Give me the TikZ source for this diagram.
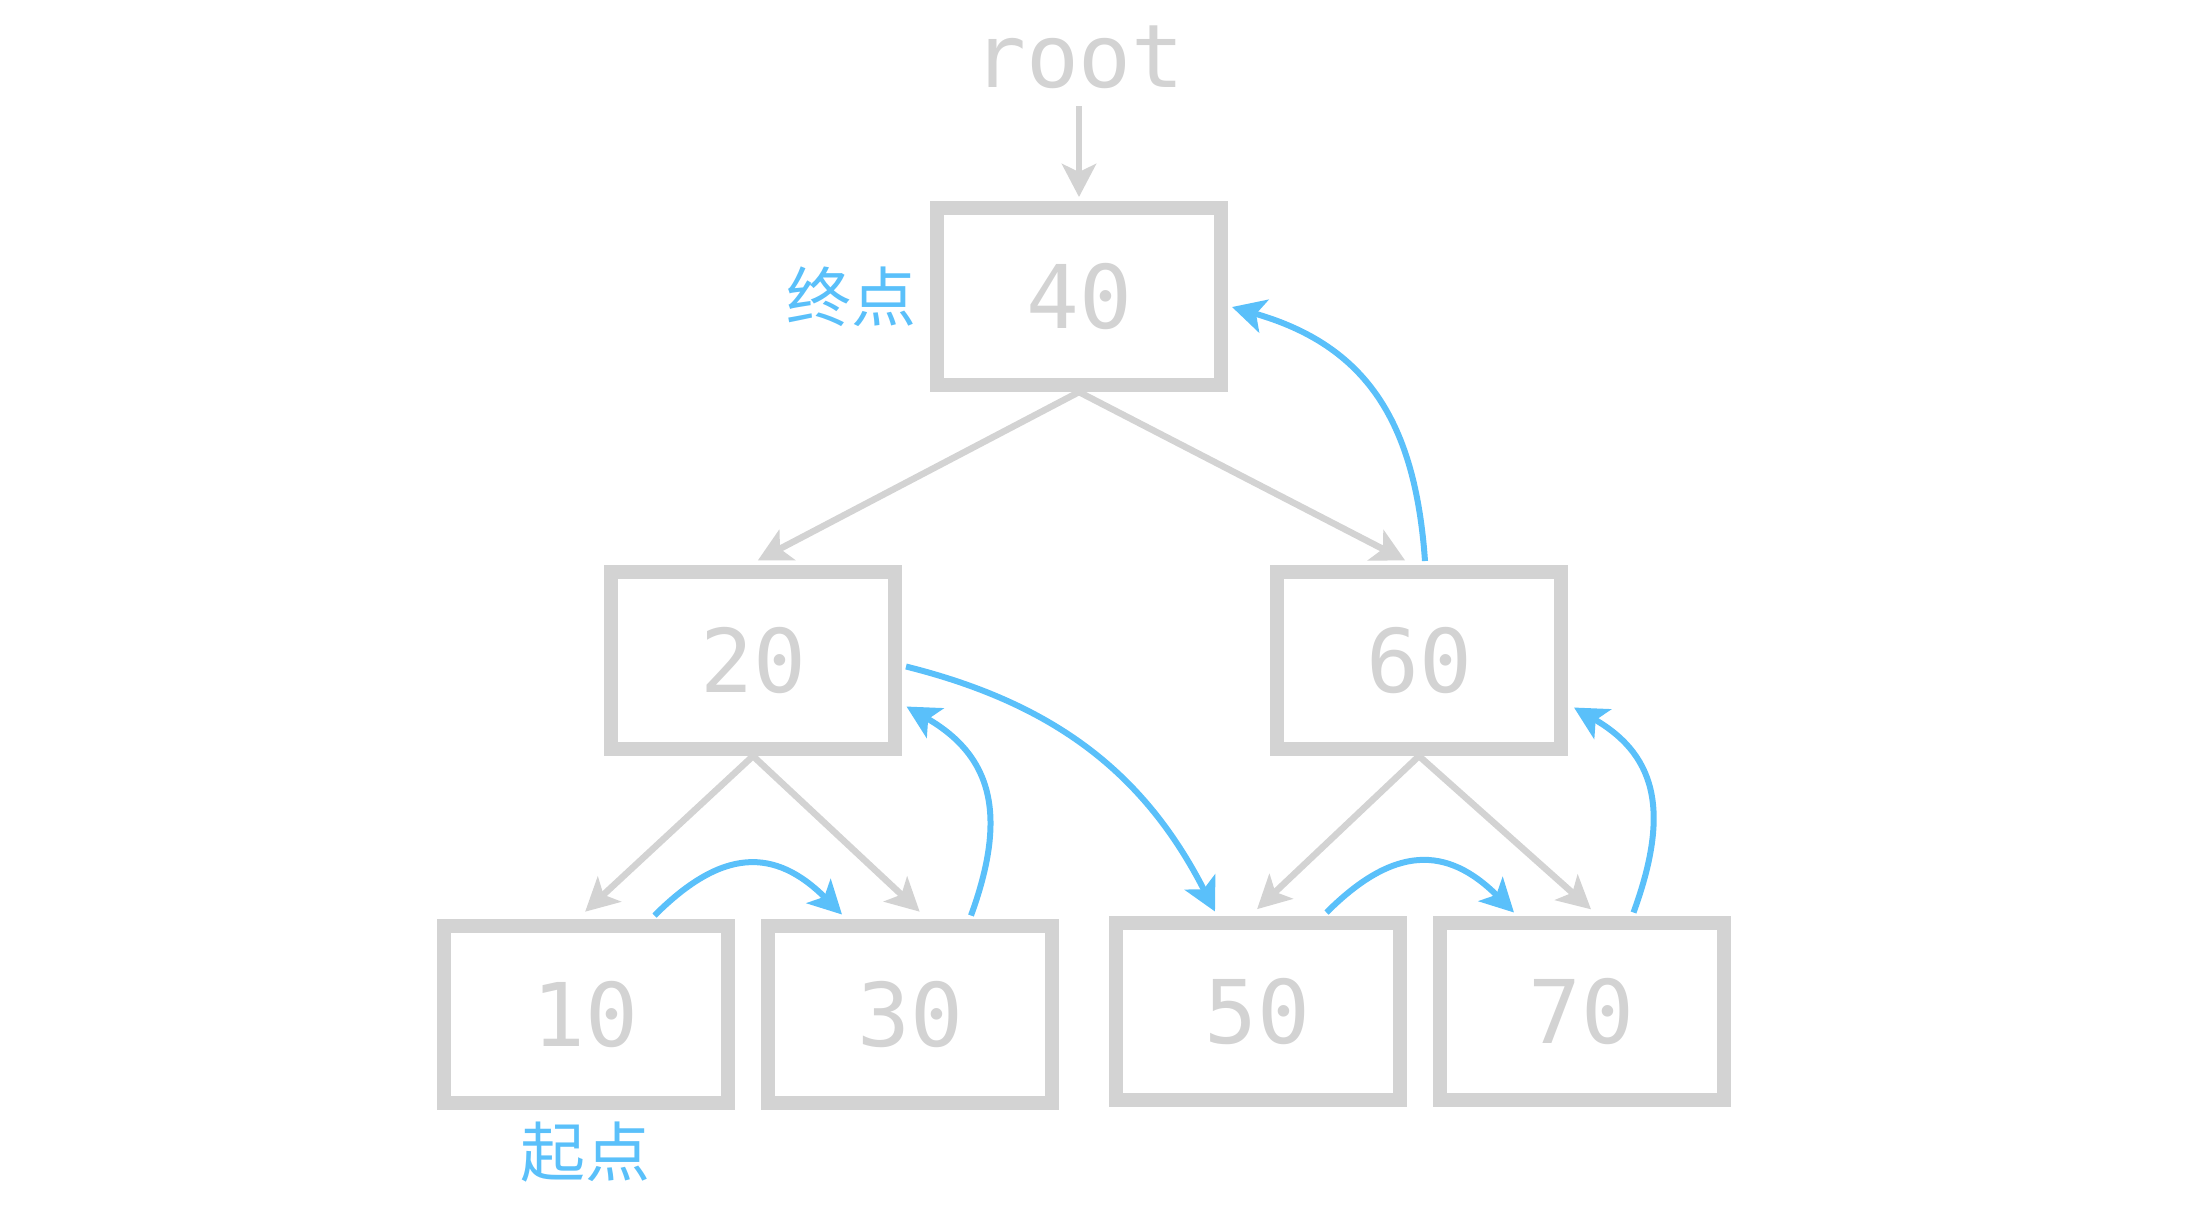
\documentclass[tikz,border=0pt]{standalone}
\usepackage{fontspec}
\setmonofont{DejaVu Sans Mono}
\newfontfamily\cjkfont{Noto Sans CJK SC}
\usetikzlibrary{positioning}
\usetikzlibrary{arrows.meta}
\usepackage{xcolor}
\definecolor{keygray}{HTML}{D3D3D3}
\definecolor{pathblue}{HTML}{5AC0FA}

\begin{document}
\begin{tikzpicture}[
		% Style definitions
		keybox/.style={draw=keygray, line width=0.14cm, minimum width=2.84cm, minimum height=1.77cm, font=\ttfamily\fontsize{25}{30}\selectfont, text=keygray},
		rootlabel/.style={font=\ttfamily\fontsize{25}{30}\selectfont, text=keygray, inner sep=0.18cm, outer sep=0pt},
		hint/.style={font=\cjkfont\fontsize{18.5}{22}\selectfont, text=pathblue},
		edge/.style={-{Stealth[length=0.33cm, width=0.34cm, inset=0.08cm]}, draw=keygray, line width=0.065cm, shorten >=0.1cm},
		visit/.style={-{Stealth[length=0.33cm, width=0.34cm, inset=0.08cm]}, draw=pathblue, line width=0.06cm},
		% Centre-to-centre distances
		node distance=0.0cm,
		on grid,
		]
		\useasboundingbox (0,0) rectangle (22.02,-12.14);

		% === ROW 0: root pointer ===
		\node[rootlabel, anchor=base] (root) at (10.79,-0.87) {root};

		% === ROW 1-3: tree nodes ===
		\node[keybox] (n40) at (10.79,-2.965) {40};
		\node[keybox, below left=3.64cm and 3.26cm of n40] (n20) {20};
		\node[keybox, below right=3.64cm and 3.40cm of n40] (n60) {60};
		\node[keybox, below left=3.535cm and 1.675cm of n20] (n10) {10};
		\node[keybox, right=3.245cm of n10] (n30) {30};
		\node[keybox, below left=3.51cm and 1.615cm of n60] (n50) {50};
		\node[keybox, right=3.24cm of n50] (n70) {70};

		% Start and end labels
		\node[hint, left=2.275cm of n40] (endmark) {终点};
		\node[hint, below=1.38cm of n10] (startmark) {起点};

		% === Tree edges ===
		\draw[edge, shorten >=0.04cm] (root.south) -- (n40.north);
		\draw[edge] (n40.south) -- ([xshift=-0.04cm]n20.north);
		\draw[edge] (n40.south) -- ([xshift=-0.05cm]n60.north);
		\draw[edge] (n20.south) -- ([xshift=-0.077cm]n10.north);
		\draw[edge] (n20.south) -- ([xshift=0.17cm]n30.north);
		\draw[edge] (n60.south) -- ([xshift=-0.077cm]n50.north);
		\draw[edge] (n60.south) -- ([xshift=0.17cm]n70.north);

		% === Traversal order ===
		\draw[visit] ([xshift=0.69cm, yshift=0.03cm]n10.north) to[out=45, in=135, looseness=1.3] ([xshift=-0.68cm, yshift=0.04cm]n30.north);
		\draw[visit] ([xshift=0.61cm, yshift=0.03cm]n30.north) to[out=70, in=-30, looseness=1.2] ([xshift=0.045cm, yshift=-0.46cm]n20.east);
		\draw[visit] ([xshift=0.04cm, yshift=-0.06cm]n20.east) to[out=-14, in=117] ([xshift=-0.425cm, yshift=0.045cm]n50.north);
		\draw[visit] ([xshift=0.69cm, yshift=0.035cm]n50.north) to[out=45, in=135, looseness=1.3] ([xshift=-0.675cm, yshift=0.035cm]n70.north);
		\draw[visit] ([xshift=0.52cm, yshift=0.035cm]n70.north) to[out=70, in=-30, looseness=1.2] ([xshift=0.06cm, yshift=-0.47cm]n60.east);
		\draw[visit] ([xshift=0.06cm, yshift=0.04cm]n60.north) to[out=94, in=-16, looseness=1.12] ([xshift=0.04cm, yshift=-0.105cm]n40.east);

	\end{tikzpicture}
\end{document}
